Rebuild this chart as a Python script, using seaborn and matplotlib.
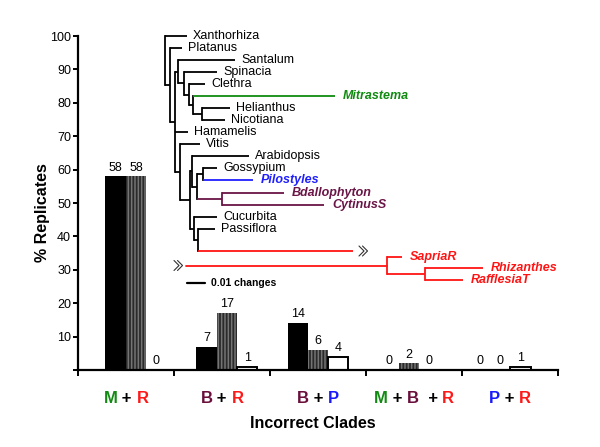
import matplotlib
matplotlib.use('Agg')
import matplotlib.pyplot as plt
import seaborn as sns
import pandas as pd
import numpy as np
from matplotlib.offsetbox import TextArea, HPacker, AnnotationBbox

# ---------------- data ----------------
clades = ['M + R', 'B + R', 'B + P', 'M + B + R', 'P + R']
series = ['solid', 'hatched', 'open']
vals_solid = [58, 7, 14, 0, 0]
vals_hatched = [58, 17, 6, 2, 0]
vals_open = [0, 1, 4, 0, 1]
yticks = [0, 10, 20, 30, 40, 50, 60, 70, 80, 90, 100]
ytick_labels = ['', '10', '20', '30', '40', '50', '60', '70', '80', '90', '100']

GREEN = '#138a13'
RED = '#ff1a1a'
PURPLE = '#6a0f3c'
BLUE = '#1a1aff'
clade_label_parts = [
    [('M', GREEN), (' + ', 'black'), ('R', RED)],
    [('B', PURPLE), (' + ', 'black'), ('R', RED)],
    [('B', PURPLE), (' + ', 'black'), ('P', BLUE)],
    [('M', GREEN), (' + ', 'black'), ('B', PURPLE), ('  + ', 'black'), ('R', RED)],
    [('P', BLUE), (' + ', 'black'), ('R', RED)],
]

# ---------------- tree inset (pixel layout of the figure) ----------------
taxa = ['Xanthorhiza', 'Platanus', 'Santalum', 'Spinacia', 'Clethra', 'Mitrastema',
        'Helianthus', 'Nicotiana', 'Hamamelis', 'Vitis', 'Arabidopsis', 'Gossypium',
        'Pilostyles', 'Bdallophyton', 'CytinusS', 'Cucurbita', 'Passiflora',
        'SapriaR', 'Rhizanthes', 'RafflesiaT']
taxa_tip_x = [187, 182, 235, 217, 205, 335, 230, 225, 188, 200, 249, 217,
              253, 284, 324, 217, 215, 402, 483, 463]
taxa_row_y = [36, 48, 60, 72, 84, 96, 108, 120, 132, 144, 156, 168,
              180, 193, 205, 217, 229, 257, 268, 280]
T_GREEN = '#108a10'
T_BLUE = '#2020ff'
T_PURPLE = '#6b1547'
T_RED = '#ff1414'
taxa_color = ['black'] * 5 + [T_GREEN] + ['black'] * 6 + [T_BLUE, T_PURPLE, T_PURPLE,
              'black', 'black', T_RED, T_RED, T_RED]

node_names = ['root', 'n1', 'n2', 'n3', 'n4', 'n5', 'n6', 'n6b', 'n7', 'n8', 'n9',
              'n10', 'n11', 'n11b', 'n12', 'n13', 'raff', 'raff2']
node_x = [165, 170, 175, 178, 184, 189, 193, 202, 180, 190, 192, 197, 203, 222,
          194, 198, 387, 425]
node_children = [
    ['Xanthorhiza', 'n1'], ['Platanus', 'n2'], ['n3', 'Hamamelis', 'n7'],
    ['Santalum', 'n4'], ['Spinacia', 'n5'], ['Clethra', 'n6'],
    ['Mitrastema', 'n6b'], ['Helianthus', 'Nicotiana'], ['Vitis', 'n8'],
    ['n9', 'n12'], ['Arabidopsis', 'n10'], ['n11', 'n11b'],
    ['Gossypium', 'Pilostyles'], ['Bdallophyton', 'CytinusS'],
    ['Cucurbita', 'n13'], ['Passiflora', 'brk'],
    ['SapriaR', 'raff2'], ['Rhizanthes', 'RafflesiaT']]
node_color = ['black'] * 13 + [T_PURPLE] + ['black', 'black', T_RED, T_RED]
# broken branch to the Rafflesiaceae clade
brk_y = 251
brk_end_x = 353
brk_restart_x = 186

# ---------------- figure ----------------
sns.set_theme(style='ticks')
plt.rcParams['font.family'] = ['Liberation Sans', 'DejaVu Sans']
plt.rcParams['hatch.linewidth'] = 1.1
plt.rcParams['text.color'] = 'black'

df = pd.DataFrame({
    'clade': clades * 3,
    'series': [series[0]] * 5 + [series[1]] * 5 + [series[2]] * 5,
    'value': vals_solid + vals_hatched + vals_open,
})

W, H = 600, 447
fig = plt.figure(figsize=(W / 100, H / 100), dpi=100)
ax = fig.add_axes([78 / W, (H - 370) / H, 480 / W, 334 / H])
sns.barplot(data=df, x='clade', y='value', hue='series', order=clades,
            hue_order=series, palette=['#000000', '#2a2a2a', '#ffffff'],
            width=0.67, saturation=1, legend=False, errorbar=None, ax=ax)

for p in ax.containers[0]:
    p.set_edgecolor('black'); p.set_linewidth(0)
for p in ax.containers[1]:
    p.set_hatch('|||||'); p.set_edgecolor('#747474'); p.set_linewidth(0)
for p in ax.containers[2]:
    p.set_edgecolor('black'); p.set_linewidth(1.4)

for c in ax.containers:
    ax.bar_label(c, fmt='%d', padding=2, fontsize=9, color='black')

xl = (-0.637, 4.637)
ax.set_xlim(*xl)
ax.set_ylim(0, 100)
bounds = np.linspace(xl[0], xl[1], 6)
ax.set_xticks(bounds)
ax.set_xticklabels([''] * 6)
ax.set_yticks(yticks)
ax.set_yticklabels(ytick_labels, fontsize=9)
ax.set_xlabel('')
ax.set_ylabel('')
sns.despine(ax=ax)
for s in ['left', 'bottom']:
    ax.spines[s].set_linewidth(1.6)
    ax.spines[s].set_color('black')
ax.tick_params(axis='y', length=3.5, width=1.4, pad=1.5, colors='black')
ax.tick_params(axis='x', length=4, width=1.4, colors='black')

centers = (bounds[:-1] + bounds[1:]) / 2
for xc, parts in zip(centers, clade_label_parts):
    box = HPacker(children=[TextArea(t, textprops=dict(color=c, fontsize=12, fontweight='bold'))
                            for t, c in parts], pad=0, sep=0, align='baseline')
    ab = AnnotationBbox(box, (xc, -0.085), xycoords=ax.get_xaxis_transform(),
                        frameon=False, box_alignment=(0.5, 0.5), pad=0,
                        annotation_clip=False)
    ax.add_artist(ab)

fig.text(313 / W, 1 - 423 / H, 'Incorrect Clades', fontsize=11.5, fontweight='bold',
         ha='center', va='center', color='black')
fig.text(42 / W, 1 - 213 / H, '% Replicates', fontsize=11.5, fontweight='bold',
         ha='center', va='center', rotation=90, color='black')

# ---------------- tree drawing ----------------
tax = fig.add_axes([0, 0, 1, 1], zorder=5)
tax.set_xlim(0, W)
tax.set_ylim(H, 0)
tax.axis('off')
tax.patch.set_alpha(0)

LW = 1.3
leaf_idx = {n: i for i, n in enumerate(taxa)}
node_idx = {n: i for i, n in enumerate(node_names)}
ypos = {}


def get_y(name):
    if name in ypos:
        return ypos[name]
    if name in leaf_idx:
        y = taxa_row_y[leaf_idx[name]]
    elif name == 'brk':
        y = brk_y
    else:
        ch = [get_y(c) for c in node_children[node_idx[name]]]
        y = (min(ch) + max(ch)) / 2
    ypos[name] = y
    return y


def child_x(name):
    if name in leaf_idx:
        return taxa_tip_x[leaf_idx[name]]
    if name == 'brk':
        return brk_end_x
    return node_x[node_idx[name]]


def child_color(name):
    if name in leaf_idx:
        return taxa_color[leaf_idx[name]]
    if name == 'brk':
        return T_RED
    return node_color[node_idx[name]]


for nm, nx, ch, nc in zip(node_names, node_x, node_children, node_color):
    ys = [get_y(c) for c in ch]
    tax.plot([nx, nx], [min(ys), max(ys)], color=nc, lw=LW, solid_capstyle='projecting')
    for c, yc in zip(ch, ys):
        tax.plot([nx, child_x(c)], [yc, yc], color=child_color(c), lw=LW,
                 solid_capstyle='butt')

# continuation of the broken branch
ry = get_y('raff')
tax.plot([brk_restart_x, node_x[node_idx['raff']]], [ry, ry], color=T_RED, lw=LW)


def break_mark(x, y):
    for dx in (0, 3.5):
        tax.plot([x + dx - 3, x + dx + 2, x + dx - 3], [y - 5, y, y + 5],
                 color='#333333', lw=0.8)


break_mark(brk_end_x + 9, brk_y)
break_mark(brk_restart_x - 9, ry)

for name, tx, ty, tc in zip(taxa, taxa_tip_x, taxa_row_y, taxa_color):
    if tc == 'black':
        tax.text(tx + 6, ty, name, fontsize=9, color='black', ha='left', va='center')
    else:
        tax.text(tx + 8, ty, name, fontsize=9, color=tc, ha='left', va='center',
                 fontweight='bold', fontstyle='italic')

# scale bar
tax.plot([187, 205], [283, 283], color='black', lw=1.6)
tax.text(211, 283, '0.01 changes', fontsize=7.5, fontweight='bold', ha='left',
         va='center', color='black')

fig.savefig('out.png', dpi=100)
